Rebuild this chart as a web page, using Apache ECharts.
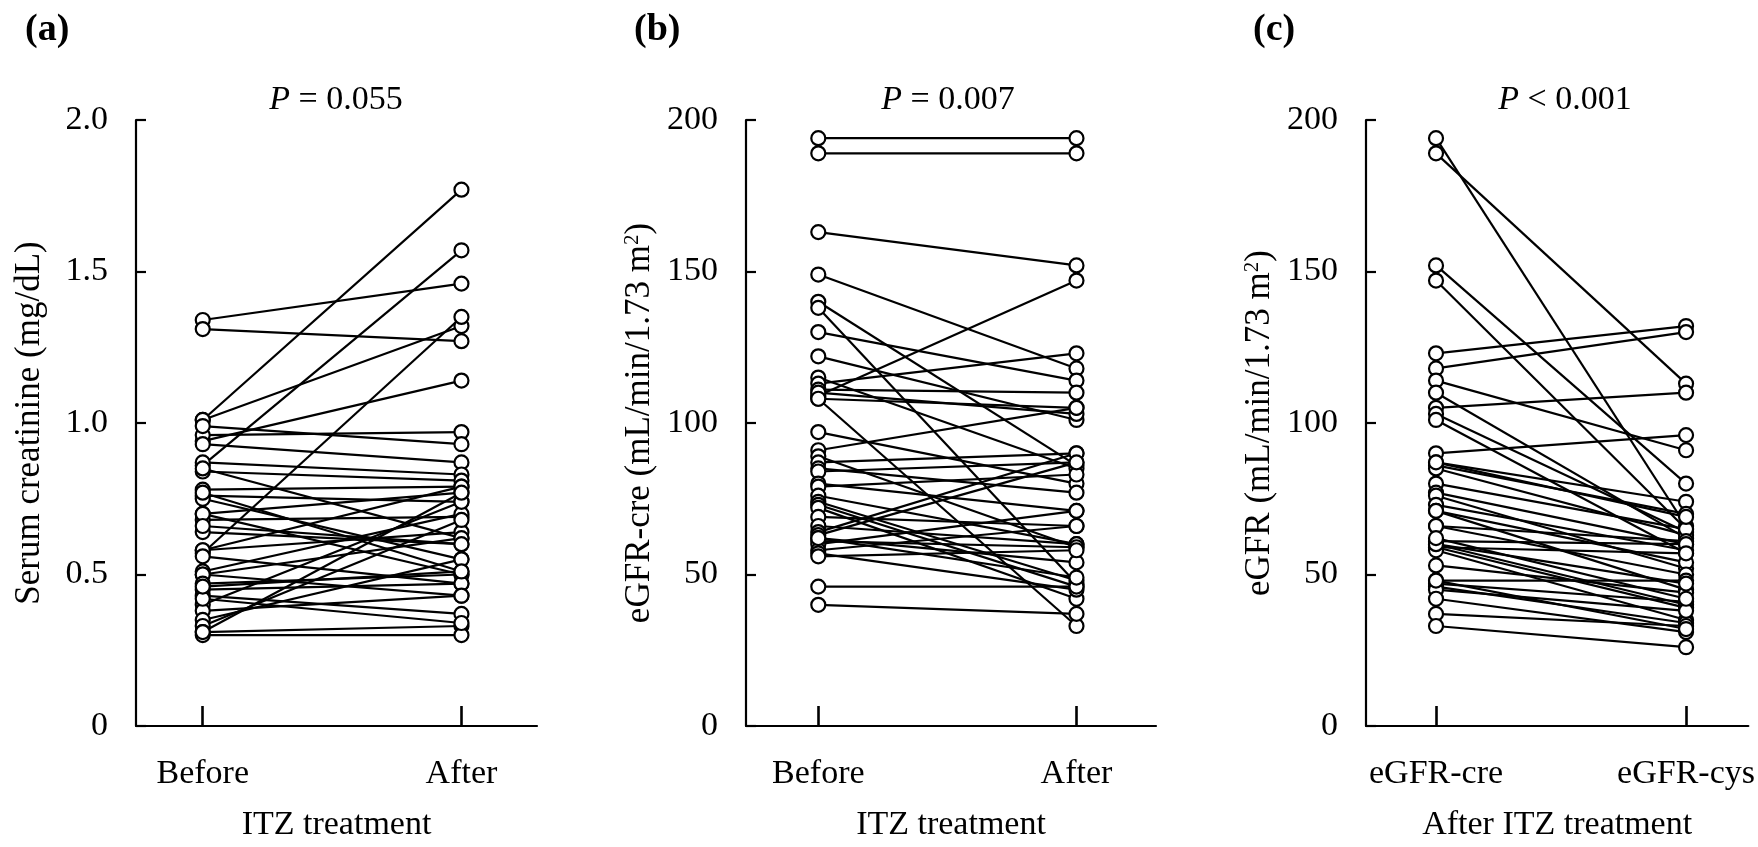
<!DOCTYPE html>
<html>
<head>
<meta charset="utf-8">
<script src="https://cdn.jsdelivr.net/npm/echarts@6/dist/echarts.min.js"></script>
<style>html,body{margin:0;padding:0;background:#fff}#c{width:1758px;height:847px}</style>
</head>
<body>
<div id="c"></div>
<script>
// Panel (a): serum creatinine (mg/dL), before vs after ITZ treatment
const catA = ['Before', 'After'];
const creBefore = [1.34,1.31,1.01,1.01,0.86,0.57,0.94,0.96,0.93,0.99,0.87,0.84,0.85,0.78,0.76,0.75,0.77,0.70,0.68,0.64,0.70,0.58,0.58,0.56,0.51,0.50,0.50,0.47,0.45,0.43,0.40,0.38,0.35,0.33,0.31,0.30,0.31,0.42,0.46,0.66];
const creAfter  = [1.46,1.27,1.77,1.32,1.57,1.35,1.14,0.97,0.87,0.93,0.83,0.81,0.62,0.79,0.74,0.55,0.51,0.77,0.69,0.60,0.50,0.79,0.64,0.47,0.70,0.62,0.43,0.50,0.47,0.37,0.74,0.43,0.55,0.68,0.33,0.30,0.77,0.34,0.51,0.60];

// Panel (b): eGFR-cre before vs after
const catB = ['Before', 'After'];
const egfrBefore = [194,189,163,149,140,138,130,122,115,113,111,109,108,110,108,97,91,89,87,85,84,80,79,76,74,73,72,69,66,64,63,62,61,60,58,57,56,46,40,62];
const egfrAfter  = [194,189,152,118,86,47,114,101,85,123,110,147,33,103,105,80,105,59,90,77,87,71,83,60,48,46,42,66,60,90,87,54,59,71,66,45,58,46,37,49];

// Panel (c): after ITZ, eGFR-cre vs eGFR-cys
const catC = ['eGFR-cre', 'eGFR-cys'];
const cCre = [194,189,152,147,123,118,114,110,105,103,101,90,87,86,85,80,77,76,73,71,71,66,66,61,60,59,59,58,53,48,47,46,45,42,37,33,60,87,48,62];
const cCys = [66,113,80,65,132,130,91,62,110,64,57,96,74,70,63,65,60,52,58,54,45,61,50,60,40,57,39,35,44,48,41,34,38,31,33,26,47,69,32,42];

const yTicksA = [0, 0.5, 1.0, 1.5, 2.0];
const yTicksB = [0, 50, 100, 150, 200];

const FONT = 'Liberation Serif';
const panels = [
  {cats: catA, x: creBefore, y: creAfter, grid: {left: 136, top: 120, width: 401, height: 614}, xmin: -0.258, xmax: 1.292,
   yTicks: yTicksA, fmt: v => v === 0 ? '0' : v.toFixed(1),
   yName: '{t|Serum creatinine (mg/dL)}', xName: 'ITZ treatment', p: '{i|P}{t| = 0.055}', pX: 336, letter: '(a)', lX: 25},
  {cats: catB, x: egfrBefore, y: egfrAfter, grid: {left: 746, top: 120, width: 410, height: 614}, xmin: -0.280, xmax: 1.308,
   yTicks: yTicksB, fmt: v => String(v),
   yName: '{t|eGFR-cre (mL/min/1.73 m}{s|2}{t|)}', xName: 'ITZ treatment', p: '{i|P}{t| = 0.007}', pX: 948, letter: '(b)', lX: 634},
  {cats: catC, x: cCre, y: cCys, grid: {left: 1366, top: 120, width: 392, height: 614}, xmin: -0.280, xmax: 1.249,
   yTicks: yTicksB, fmt: v => String(v),
   yName: '{t|eGFR (mL/min/1.73 m}{s|2}{t|)}', xName: 'After ITZ treatment', p: '{i|P}{t| < 0.001}', pX: 1565, letter: '(c)', lX: 1253}
];

const rich = {
  t: {fontFamily: FONT, fontSize: 35, color: '#000'},
  s: {fontFamily: FONT, fontSize: 21, color: '#000', verticalAlign: 'top'},
  i: {fontFamily: FONT, fontSize: 34, color: '#000', fontStyle: 'italic'}
};
const richP = {
  t: {fontFamily: FONT, fontSize: 34, color: '#000'},
  i: {fontFamily: FONT, fontSize: 34, color: '#000', fontStyle: 'italic'}
};

const grid = [], xAxis = [], yAxis = [], series = [], graphic = [];
panels.forEach((p, k) => {
  grid.push(Object.assign({containLabel: false}, p.grid));
  const ls = {color: '#000', width: 2.2};
  xAxis.push({
    gridIndex: k, type: 'value', min: p.xmin, max: p.xmax, position: 'bottom',
    axisLine: {show: true, onZero: false, lineStyle: ls},
    axisTick: {show: true, inside: true, length: 20, customValues: [0, 1], lineStyle: {color: '#000', width: 2.6}},
    axisLabel: {show: true, customValues: [0, 1], formatter: v => p.cats[Math.round(v)], margin: 31,
      fontFamily: FONT, fontSize: 34, color: '#000'},
    splitLine: {show: false},
    name: p.xName, nameLocation: 'middle', nameGap: 82,
    nameTextStyle: {fontFamily: FONT, fontSize: 34, color: '#000'}
  });
  yAxis.push({
    gridIndex: k, type: 'value', position: 'left', min: p.yTicks[0], max: p.yTicks[p.yTicks.length - 1],
    interval: p.yTicks[1] - p.yTicks[0],
    axisLine: {show: true, onZero: false, lineStyle: ls},
    axisTick: {show: true, inside: true, length: 10, lineStyle: ls},
    axisLabel: {formatter: p.fmt, margin: 28, fontFamily: FONT, fontSize: 34, color: '#000'},
    splitLine: {show: false},
    name: p.yName, nameLocation: 'middle', nameGap: 89,
    nameTextStyle: {fontFamily: FONT, fontSize: 35, color: '#000', rich: rich}
  });
  const pts = [];
  for (let i = 0; i < p.x.length; i++) {
    series.push({
      type: 'line', xAxisIndex: k, yAxisIndex: k, silent: true, showSymbol: false,
      lineStyle: {color: '#000', width: 2.2}, z: 2,
      data: [[0, p.x[i]], [1, p.y[i]]]
    });
    pts.push([0, p.x[i]], [1, p.y[i]]);
  }
  series.push({
    type: 'scatter', xAxisIndex: k, yAxisIndex: k, silent: true, z: 5,
    symbol: 'circle', symbolSize: 14,
    itemStyle: {color: '#fff', borderColor: '#000', borderWidth: 2.2, opacity: 1},
    data: pts
  });
  graphic.push({
    type: 'text', x: p.pX, y: 100,
    style: {text: p.p, rich: richP, align: 'center', verticalAlign: 'middle'}
  });
  graphic.push({
    type: 'text', x: p.lX, y: 30,
    style: {text: p.letter, fontFamily: FONT, fontSize: 38, fontWeight: 'bold', fill: '#000', align: 'left', verticalAlign: 'middle'}
  });
});

const chart = echarts.init(document.getElementById('c'), null, {renderer: 'canvas'});
chart.setOption({animation: false, backgroundColor: '#fff', grid, xAxis, yAxis, series, graphic});
</script>
</body>
</html>
